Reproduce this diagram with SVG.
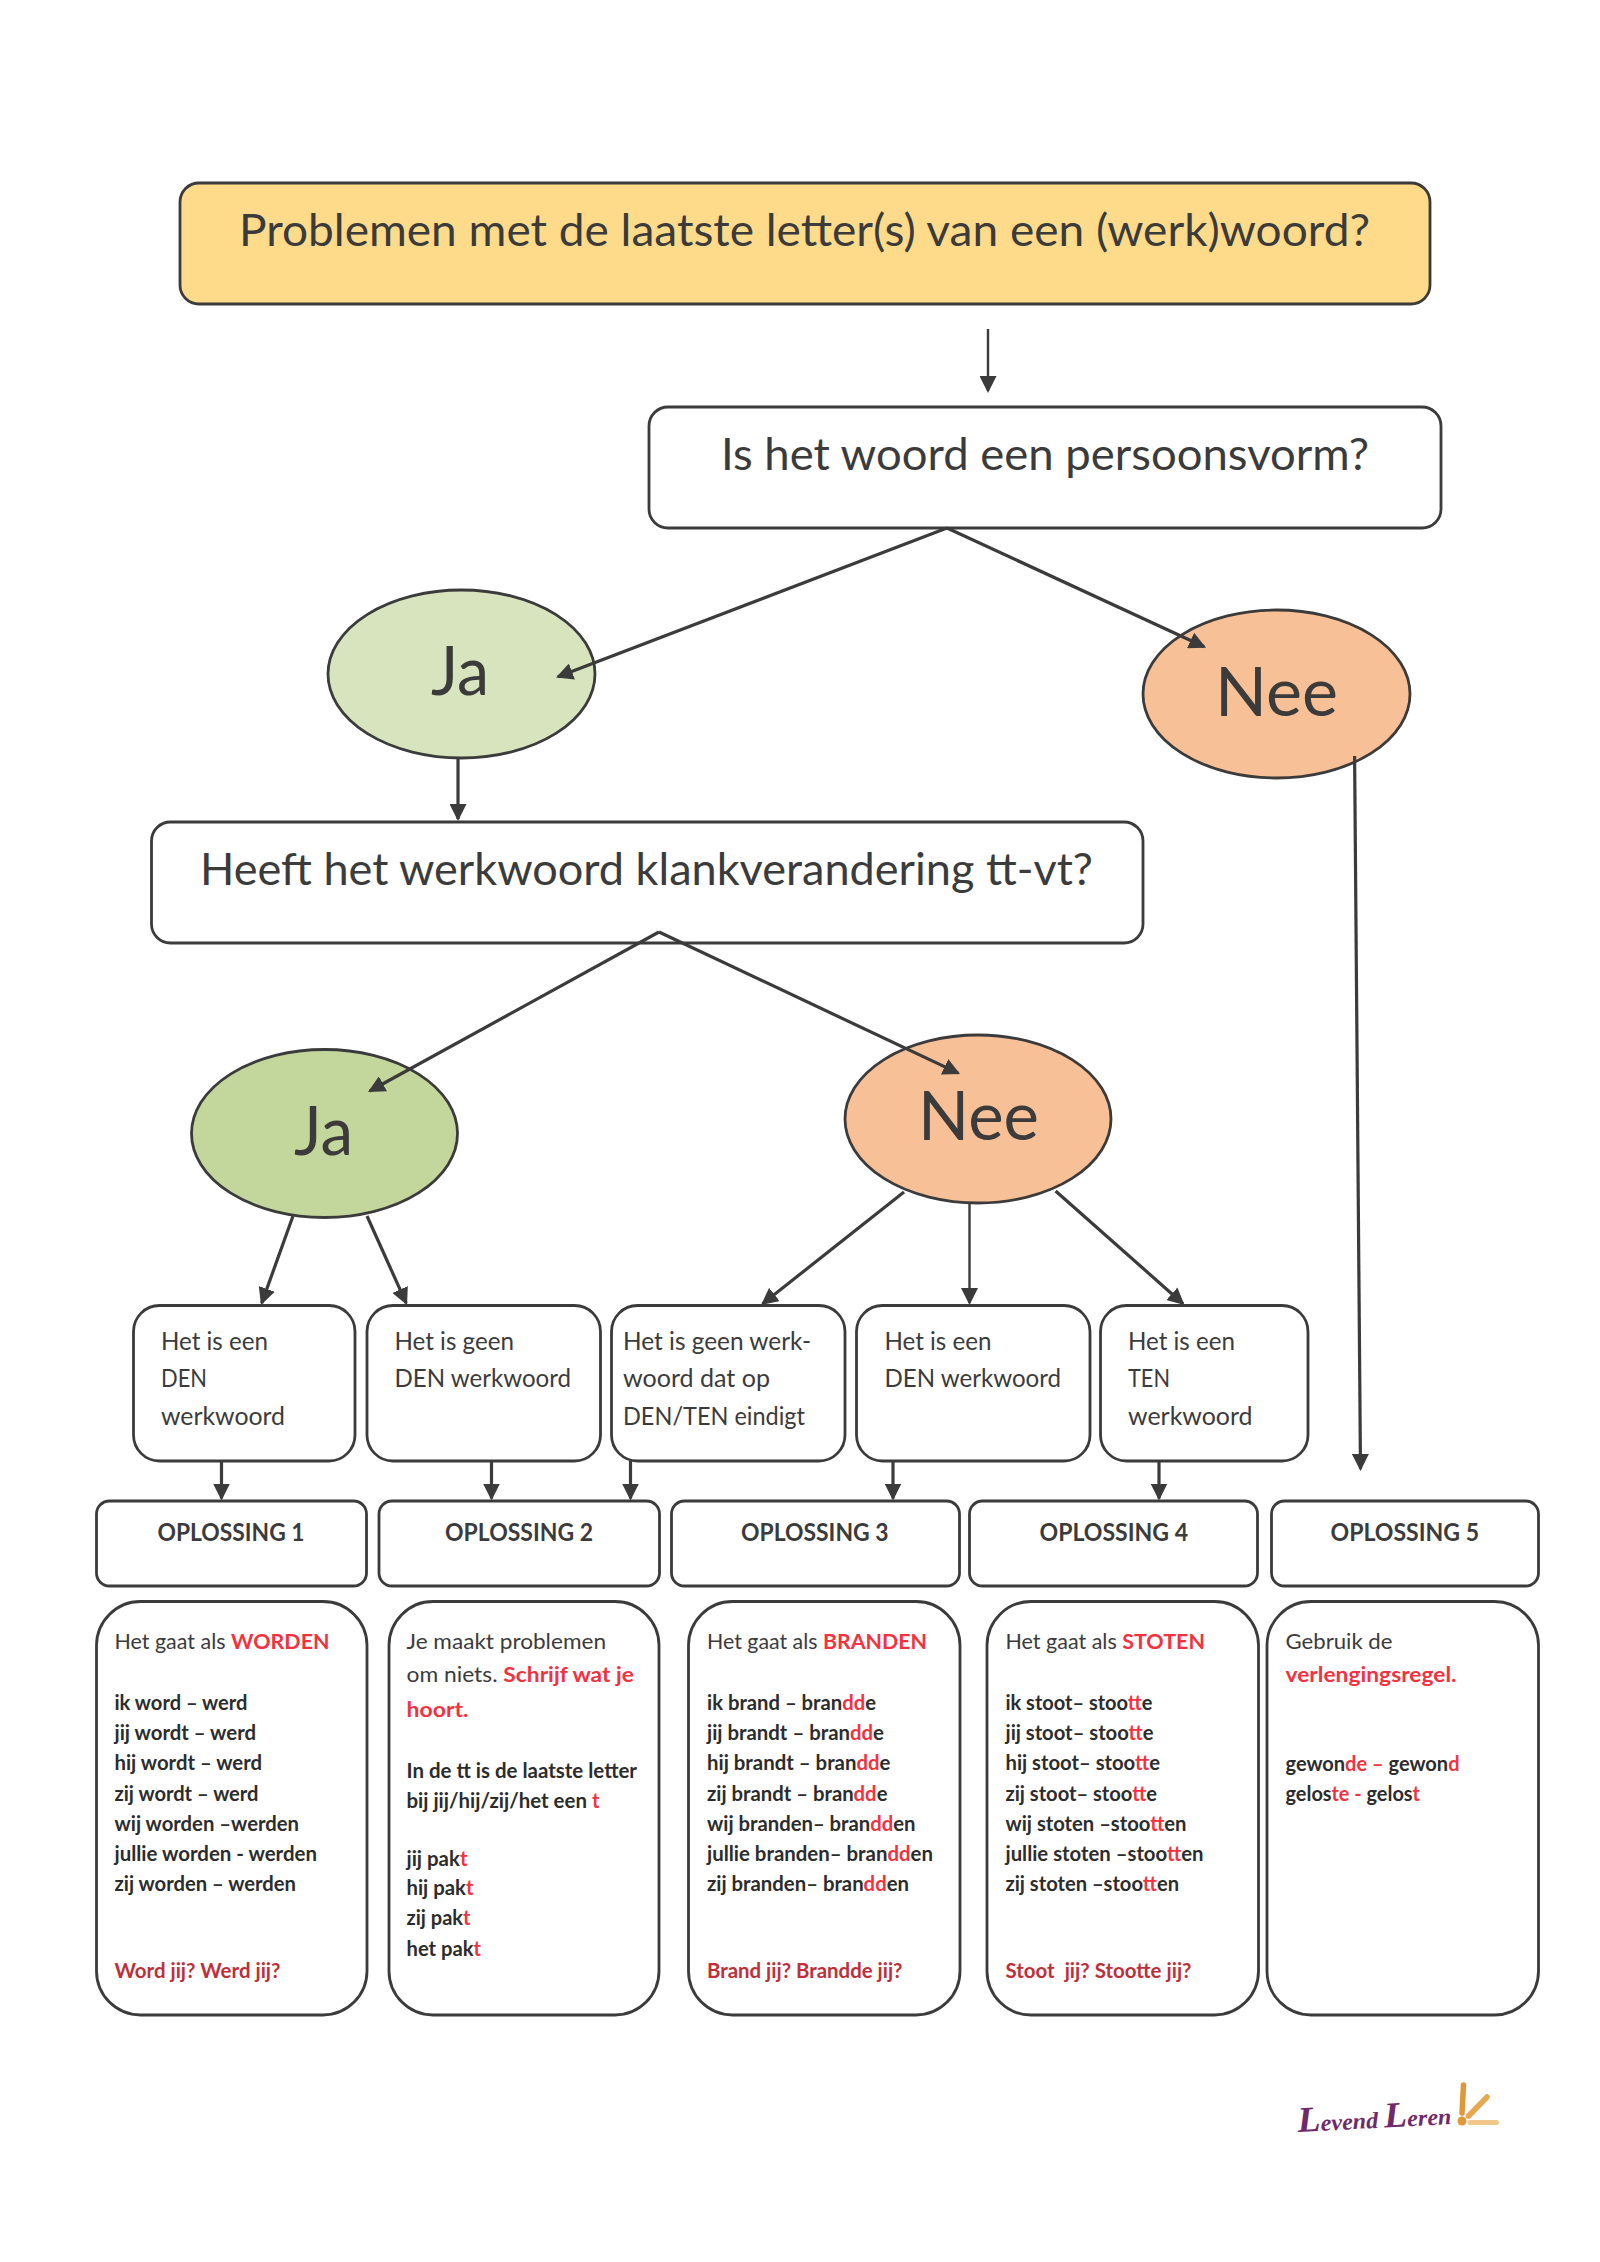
<svg xmlns="http://www.w3.org/2000/svg" width="1600" height="2262" viewBox="0 0 1600 2262">
<style>
text{font-family:Lato,"Open Sans","Liberation Sans",sans-serif;fill:#3b3b3b}
.box{fill:#fff;stroke:#3b3b3b;stroke-width:2.8}
.ell{stroke:#3b3b3b;stroke-width:2.8}
.xl{font-size:44px}
.big{font-size:68px}
.mid{font-size:25px}
.op{font-size:24px;font-weight:700}
.s{font-size:21.5px}
.bd{font-size:20.5px;font-weight:700;fill:#2c2c2c}
.r{fill:#f2333f}
.rb{fill:#f2333f;font-weight:700}
.dr{fill:#bd3039;font-weight:700}
#connectors line{fill:none;stroke:#3b3b3b;stroke-width:3.2}
#connectors .thin{stroke-width:2.4}
</style>
<defs>
<marker id="ah" markerUnits="userSpaceOnUse" markerWidth="17" markerHeight="17" viewBox="0 0 17 17" refX="15" refY="8.5" orient="auto"><path d="M0 0L17 8.5L0 17Z" fill="#3b3b3b"/></marker>
</defs>
<rect width="1600" height="2262" fill="#fff"/>

<g id="title"><rect class="box" x="180" y="183" width="1250" height="121" rx="19" style="fill:#fedb8b"/>
<text class="xl" x="239" y="245.5" textLength="1131" lengthAdjust="spacingAndGlyphs">Problemen met de laatste letter(s) van een (werk)woord?</text></g>
<g id="q1"><rect class="box" x="649" y="407" width="792" height="121" rx="19"/>
<text class="xl" x="721" y="469.5" textLength="648" lengthAdjust="spacingAndGlyphs">Is het woord een persoonsvorm?</text></g>
<g id="ja1"><ellipse class="ell" cx="461.5" cy="674" rx="133.5" ry="84" fill="#d7e4bd"/>
<text class="big" x="431" y="694.5" textLength="58" lengthAdjust="spacingAndGlyphs">Ja</text></g>
<g id="nee1"><ellipse class="ell" cx="1276.5" cy="694" rx="133.5" ry="84" fill="#f7c096"/>
<text class="big" x="1215" y="715.5" textLength="123" lengthAdjust="spacingAndGlyphs">Nee</text></g>
<g id="q2"><rect class="box" x="151.5" y="822" width="991.5" height="121" rx="19"/>
<text class="xl" x="200" y="884.5" textLength="893" lengthAdjust="spacingAndGlyphs">Heeft het werkwoord klankverandering tt-vt?</text></g>
<g id="ja2"><ellipse class="ell" cx="324.5" cy="1133.5" rx="133" ry="84" fill="#c3d69b"/>
<text class="big" x="294" y="1154.5" textLength="59" lengthAdjust="spacingAndGlyphs">Ja</text></g>
<g id="nee2"><ellipse class="ell" cx="978" cy="1119" rx="133" ry="84" fill="#f7c096"/>
<text class="big" x="918" y="1139.5" textLength="121" lengthAdjust="spacingAndGlyphs">Nee</text></g>

<g id="type1"><rect class="box" x="133.5" y="1305.5" width="221.5" height="155.5" rx="26"/>
<text class="mid" x="161" y="1349.5" textLength="107" lengthAdjust="spacingAndGlyphs">Het is een</text>
<text class="mid" x="161" y="1386.5" textLength="46" lengthAdjust="spacingAndGlyphs">DEN</text>
<text class="mid" x="161" y="1424.5" textLength="124" lengthAdjust="spacingAndGlyphs">werkwoord</text></g>
<g id="type2"><rect class="box" x="367" y="1305.5" width="233.5" height="155.5" rx="26"/>
<text class="mid" x="394.5" y="1349.5" textLength="119.5" lengthAdjust="spacingAndGlyphs">Het is geen</text>
<text class="mid" x="394.5" y="1386.5" textLength="176.5" lengthAdjust="spacingAndGlyphs">DEN werkwoord</text></g>
<g id="type3"><rect class="box" x="611.5" y="1305.5" width="233.5" height="155.5" rx="26"/>
<text class="mid" x="623" y="1349.5" textLength="188" lengthAdjust="spacingAndGlyphs">Het is geen werk-</text>
<text class="mid" x="623" y="1386.5" textLength="147" lengthAdjust="spacingAndGlyphs">woord dat op</text>
<text class="mid" x="623" y="1424.5" textLength="182" lengthAdjust="spacingAndGlyphs">DEN/TEN eindigt</text></g>
<g id="type4"><rect class="box" x="856.5" y="1305.5" width="233.5" height="155.5" rx="26"/>
<text class="mid" x="884.5" y="1349.5" textLength="107" lengthAdjust="spacingAndGlyphs">Het is een</text>
<text class="mid" x="884.5" y="1386.5" textLength="176.5" lengthAdjust="spacingAndGlyphs">DEN werkwoord</text></g>
<g id="type5"><rect class="box" x="1100.5" y="1305.5" width="207.5" height="155.5" rx="26"/>
<text class="mid" x="1128" y="1349.5" textLength="107" lengthAdjust="spacingAndGlyphs">Het is een</text>
<text class="mid" x="1128" y="1386.5" textLength="42" lengthAdjust="spacingAndGlyphs">TEN</text>
<text class="mid" x="1128" y="1424.5" textLength="124.5" lengthAdjust="spacingAndGlyphs">werkwoord</text></g>

<g id="opl1"><rect class="box" x="96.5" y="1501" width="270" height="85" rx="13"/>
<text class="op" x="157.5" y="1541" textLength="147" lengthAdjust="spacingAndGlyphs">OPLOSSING 1</text></g>
<g id="opl2"><rect class="box" x="379" y="1501" width="280.5" height="85" rx="13"/>
<text class="op" x="445" y="1541" textLength="148" lengthAdjust="spacingAndGlyphs">OPLOSSING 2</text></g>
<g id="opl3"><rect class="box" x="671.5" y="1501" width="288" height="85" rx="13"/>
<text class="op" x="741" y="1541" textLength="147.5" lengthAdjust="spacingAndGlyphs">OPLOSSING 3</text></g>
<g id="opl4"><rect class="box" x="969.5" y="1501" width="288" height="85" rx="13"/>
<text class="op" x="1039.5" y="1541" textLength="148.5" lengthAdjust="spacingAndGlyphs">OPLOSSING 4</text></g>
<g id="opl5"><rect class="box" x="1271.5" y="1501" width="267" height="85" rx="13"/>
<text class="op" x="1330.5" y="1541" textLength="148.5" lengthAdjust="spacingAndGlyphs">OPLOSSING 5</text></g>

<g id="card1"><rect class="box" x="96.5" y="1601.5" width="270.5" height="413.5" rx="44"/>
<text class="s" x="114.5" y="1649" textLength="215" lengthAdjust="spacingAndGlyphs">Het gaat als <tspan class="rb">WORDEN</tspan></text>
<text class="bd" x="114.5" y="1710" textLength="133" lengthAdjust="spacingAndGlyphs">ik word – werd</text>
<text class="bd" x="114.5" y="1740" textLength="141.5" lengthAdjust="spacingAndGlyphs">jij wordt – werd</text>
<text class="bd" x="114.5" y="1770" textLength="147.5" lengthAdjust="spacingAndGlyphs">hij wordt – werd</text>
<text class="bd" x="114.5" y="1801" textLength="144" lengthAdjust="spacingAndGlyphs">zij wordt – werd</text>
<text class="bd" x="114.5" y="1831" textLength="184.5" lengthAdjust="spacingAndGlyphs">wij worden –werden</text>
<text class="bd" x="114.5" y="1861" textLength="202.5" lengthAdjust="spacingAndGlyphs">jullie worden - werden</text>
<text class="bd" x="114.5" y="1891" textLength="181.5" lengthAdjust="spacingAndGlyphs">zij worden – werden</text>
<text class="s dr" x="114.5" y="1978" textLength="166" lengthAdjust="spacingAndGlyphs">Word jij? Werd jij?</text></g>

<g id="card2"><rect class="box" x="389" y="1601.5" width="270" height="413.5" rx="44"/>
<text class="s" x="406.5" y="1649" textLength="199.5" lengthAdjust="spacingAndGlyphs">Je maakt problemen</text>
<text class="s" x="406.5" y="1682" textLength="227.5" lengthAdjust="spacingAndGlyphs">om niets. <tspan class="rb">Schrijf wat je</tspan></text>
<text class="s rb" x="406.5" y="1717" textLength="62" lengthAdjust="spacingAndGlyphs">hoort.</text>
<text class="bd" x="406.5" y="1778" textLength="230.5" lengthAdjust="spacingAndGlyphs">In de tt is de laatste letter</text>
<text class="bd" x="406.5" y="1808" textLength="193" lengthAdjust="spacingAndGlyphs">bij jij/hij/zij/het een <tspan class="r">t</tspan></text>
<text class="bd" x="406.5" y="1866" textLength="61" lengthAdjust="spacingAndGlyphs">jij pak<tspan class="r">t</tspan></text>
<text class="bd" x="406.5" y="1895" textLength="67" lengthAdjust="spacingAndGlyphs">hij pak<tspan class="r">t</tspan></text>
<text class="bd" x="406.5" y="1925" textLength="64" lengthAdjust="spacingAndGlyphs">zij pak<tspan class="r">t</tspan></text>
<text class="bd" x="406.5" y="1956" textLength="74.5" lengthAdjust="spacingAndGlyphs">het pak<tspan class="r">t</tspan></text></g>

<g id="card3"><rect class="box" x="688.5" y="1601.5" width="271.5" height="413.5" rx="44"/>
<text class="s" x="707" y="1649" textLength="220" lengthAdjust="spacingAndGlyphs">Het gaat als <tspan class="rb">BRANDEN</tspan></text>
<text class="bd" x="707" y="1710" textLength="169" lengthAdjust="spacingAndGlyphs">ik brand – bran<tspan class="r">dd</tspan>e</text>
<text class="bd" x="707" y="1740" textLength="177" lengthAdjust="spacingAndGlyphs">jij brandt – bran<tspan class="r">dd</tspan>e</text>
<text class="bd" x="707" y="1770" textLength="183.5" lengthAdjust="spacingAndGlyphs">hij brandt – bran<tspan class="r">dd</tspan>e</text>
<text class="bd" x="707" y="1801" textLength="180.5" lengthAdjust="spacingAndGlyphs">zij brandt – bran<tspan class="r">dd</tspan>e</text>
<text class="bd" x="707" y="1831" textLength="208.5" lengthAdjust="spacingAndGlyphs">wij branden– bran<tspan class="r">dd</tspan>en</text>
<text class="bd" x="707" y="1861" textLength="226" lengthAdjust="spacingAndGlyphs">jullie branden– bran<tspan class="r">dd</tspan>en</text>
<text class="bd" x="707" y="1891" textLength="202" lengthAdjust="spacingAndGlyphs">zij branden– bran<tspan class="r">dd</tspan>en</text>
<text class="s dr" x="707" y="1978" textLength="195.5" lengthAdjust="spacingAndGlyphs">Brand jij? Brandde jij?</text></g>

<g id="card4"><rect class="box" x="987" y="1601.5" width="271.5" height="413.5" rx="44"/>
<text class="s" x="1005.5" y="1649" textLength="199.5" lengthAdjust="spacingAndGlyphs">Het gaat als <tspan class="rb">STOTEN</tspan></text>
<text class="bd" x="1005.5" y="1710" textLength="147" lengthAdjust="spacingAndGlyphs">ik stoot– stoo<tspan class="r">tt</tspan>e</text>
<text class="bd" x="1005.5" y="1740" textLength="148" lengthAdjust="spacingAndGlyphs">jij stoot– stoo<tspan class="r">tt</tspan>e</text>
<text class="bd" x="1005.5" y="1770" textLength="154.5" lengthAdjust="spacingAndGlyphs">hij stoot– stoo<tspan class="r">tt</tspan>e</text>
<text class="bd" x="1005.5" y="1801" textLength="151.5" lengthAdjust="spacingAndGlyphs">zij stoot– stoo<tspan class="r">tt</tspan>e</text>
<text class="bd" x="1005.5" y="1831" textLength="181" lengthAdjust="spacingAndGlyphs">wij stoten –stoo<tspan class="r">tt</tspan>en</text>
<text class="bd" x="1005.5" y="1861" textLength="198" lengthAdjust="spacingAndGlyphs">jullie stoten –stoo<tspan class="r">tt</tspan>en</text>
<text class="bd" x="1005.5" y="1891" textLength="173.5" lengthAdjust="spacingAndGlyphs">zij stoten –stoo<tspan class="r">tt</tspan>en</text>
<text class="s dr" x="1005.5" y="1978" textLength="186" lengthAdjust="spacingAndGlyphs" xml:space="preserve">Stoot  jij? Stootte jij?</text></g>

<g id="card5"><rect class="box" x="1267" y="1601.5" width="271.5" height="413.5" rx="44"/>
<text class="s" x="1285.5" y="1649" textLength="107" lengthAdjust="spacingAndGlyphs">Gebruik de</text>
<text class="s rb" x="1285.5" y="1682" textLength="171" lengthAdjust="spacingAndGlyphs">verlengingsregel.</text>
<text class="bd" x="1285.5" y="1771" textLength="174" lengthAdjust="spacingAndGlyphs">gewon<tspan class="r">de –</tspan> gewon<tspan class="r">d</tspan></text>
<text class="bd" x="1285.5" y="1801" textLength="134.5" lengthAdjust="spacingAndGlyphs">gelos<tspan class="r">te -</tspan> gelos<tspan class="r">t</tspan></text></g>

<g id="logo">
<text transform="rotate(-3 1298 2132)" x="1298" y="2132" textLength="154" lengthAdjust="spacingAndGlyphs" style="font-family:'Liberation Serif',serif;font-style:italic;font-weight:700;font-size:23px;fill:#6f2a6a"><tspan style="font-size:36px;fill:#6f2a6a">L</tspan>evend <tspan style="font-size:36px;fill:#6f2a6a">L</tspan>eren</text>
<path d="M1463.5 2085L1462 2113" fill="none" stroke="#e0983a" stroke-width="5.5" stroke-linecap="round"/>
<circle cx="1462" cy="2121" r="4.5" fill="#e0983a"/>
<path d="M1468.5 2116L1487 2097" fill="none" stroke="#e6a74f" stroke-width="5.5" stroke-linecap="round"/>
<path d="M1470 2122.5L1496.5 2122.5" fill="none" stroke="#f2c88a" stroke-width="5" stroke-linecap="round"/>
</g>

<g id="connectors">
<line class="thin" x1="988" y1="329" x2="988" y2="391" marker-end="url(#ah)"/>
<line x1="947" y1="528" x2="557.9" y2="676.8" marker-end="url(#ah)"/>
<line x1="947" y1="528" x2="1204.2" y2="646.8" marker-end="url(#ah)"/>
<line x1="1354.6" y1="756" x2="1360.5" y2="1469" marker-end="url(#ah)"/>
<line x1="458" y1="757" x2="458" y2="819" marker-end="url(#ah)"/>
<line x1="659" y1="932" x2="369.8" y2="1091" marker-end="url(#ah)"/>
<line x1="659" y1="932" x2="958.2" y2="1073.1" marker-end="url(#ah)"/>
<line x1="293" y1="1216" x2="261.7" y2="1303.1" marker-end="url(#ah)"/>
<line x1="367" y1="1216" x2="406.2" y2="1303.2" marker-end="url(#ah)"/>
<line x1="904" y1="1192" x2="762.6" y2="1303.8" marker-end="url(#ah)"/>
<line class="thin" x1="969.5" y1="1203" x2="969.5" y2="1303" marker-end="url(#ah)"/>
<line x1="1055.6" y1="1191" x2="1183" y2="1303.7" marker-end="url(#ah)"/>
<line x1="221.5" y1="1461" x2="221.5" y2="1498.5" marker-end="url(#ah)"/>
<line x1="491.5" y1="1461" x2="491.5" y2="1498.5" marker-end="url(#ah)"/>
<line x1="630.5" y1="1461" x2="630.5" y2="1498.5" marker-end="url(#ah)"/>
<line x1="893" y1="1461" x2="893" y2="1498.5" marker-end="url(#ah)"/>
<line x1="1159" y1="1461" x2="1159" y2="1498.5" marker-end="url(#ah)"/>
</g>
</svg>
